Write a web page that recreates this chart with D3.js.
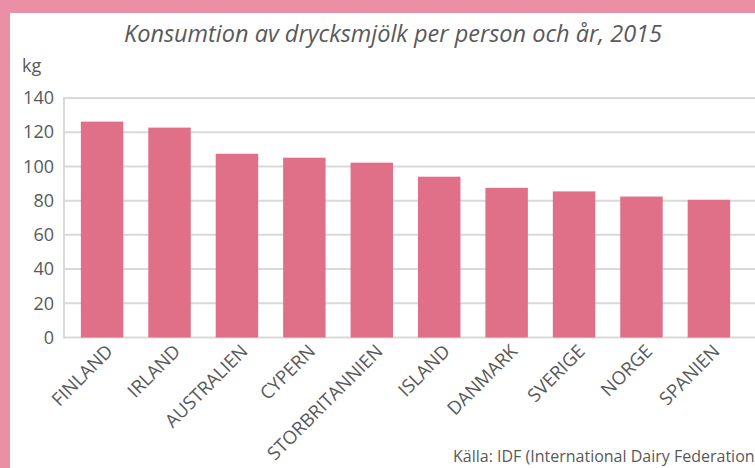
<!DOCTYPE html>
<html lang="sv">
<head>
<meta charset="UTF-8">
<title>Konsumtion av drycksmjölk</title>
<script src="https://d3js.org/d3.v7.min.js"></script>
<style>
  body { margin: 0; background: #fff; }
  svg { display: block; font-family: "Open Sans", sans-serif; }
</style>
</head>
<body>
<script>
// data
var countries = ["FINLAND", "IRLAND", "AUSTRALIEN", "CYPERN", "STORBRITANNIEN",
                 "ISLAND", "DANMARK", "SVERIGE", "NORGE", "SPANIEN"];
var kgPerPerson = [126.2, 122.7, 107.4, 105.1, 102.2, 94.0, 87.5, 85.4, 82.4, 80.5];
var yTicks = [0, 20, 40, 60, 80, 100, 120, 140];

var W = 755, H = 468;
var plotLeft = 64, plotRight = 747, plotTop = 98, plotBottom = 337.5;

var svg = d3.select("body").append("svg")
    .attr("width", W)
    .attr("height", H);

// pink frame, top and left
svg.append("rect").attr("x", 0).attr("y", 0).attr("width", W).attr("height", 13).attr("fill", "#eb8fa4");
svg.append("rect").attr("x", 0).attr("y", 0).attr("width", 10).attr("height", H).attr("fill", "#eb8fa4");

var x = d3.scaleBand()
    .domain(countries)
    .range([plotLeft, plotRight])
    .paddingInner(0.37)
    .paddingOuter(0.25);

var y = d3.scaleLinear()
    .domain([0, 140])
    .range([plotBottom, plotTop]);

// gridlines
svg.append("g")
    .selectAll("line")
    .data(yTicks)
    .join("line")
    .attr("x1", plotLeft)
    .attr("x2", W)
    .attr("y1", function (d) { return y(d); })
    .attr("y2", function (d) { return y(d); })
    .attr("stroke", "#d9d9d9")
    .attr("stroke-width", 2);

svg.append("line")
    .attr("x1", plotLeft).attr("x2", plotLeft)
    .attr("y1", y(140) - 1).attr("y2", y(0) + 1)
    .attr("stroke", "#d9d9d9")
    .attr("stroke-width", 2);

// y labels
var yAxis = svg.append("g")
    .attr("transform", "translate(" + (plotLeft - 10) + ",0)")
    .call(d3.axisLeft(y).tickValues(yTicks).tickSize(0).tickPadding(0));
yAxis.select(".domain").remove();
yAxis.selectAll("text")
    .attr("fill", "#595959")
    .attr("font-size", "18px")
    .attr("font-family", "'Open Sans', sans-serif");

// bars
svg.append("g")
    .selectAll("rect")
    .data(countries)
    .join("rect")
    .attr("x", function (d) { return x(d); })
    .attr("y", function (d, i) { return y(kgPerPerson[i]); })
    .attr("width", x.bandwidth())
    .attr("height", function (d, i) { return y(0) - y(kgPerPerson[i]); })
    .attr("fill", "#e07088");

// x labels
var xAxis = svg.append("g")
    .attr("transform", "translate(0," + plotBottom + ")")
    .call(d3.axisBottom(x).tickSize(0));
xAxis.select(".domain").remove();
xAxis.selectAll("text")
    .attr("fill", "#595959")
    .attr("font-size", "18.5px")
    .attr("font-family", "'Open Sans', sans-serif")
    .attr("text-anchor", "end")
    .attr("dy", "0")
    .attr("y", 0)
    .attr("transform", "translate(12,15) rotate(-45)");

// title
svg.append("text")
    .attr("x", 393)
    .attr("y", 42)
    .attr("text-anchor", "middle")
    .attr("font-size", "23.5px")
    .attr("font-style", "italic")
    .attr("fill", "#595959")
    .text("Konsumtion av drycksmjölk per person och år, 2015");

svg.append("text")
    .attr("x", 22)
    .attr("y", 72)
    .attr("font-size", "18px")
    .attr("fill", "#595959")
    .text("kg");

svg.append("text")
    .attr("x", 453)
    .attr("y", 462)
    .attr("font-size", "16px")
    .attr("fill", "#595959")
    .text("Källa: IDF (International Dairy Federation)");
</script>
</body>
</html>
